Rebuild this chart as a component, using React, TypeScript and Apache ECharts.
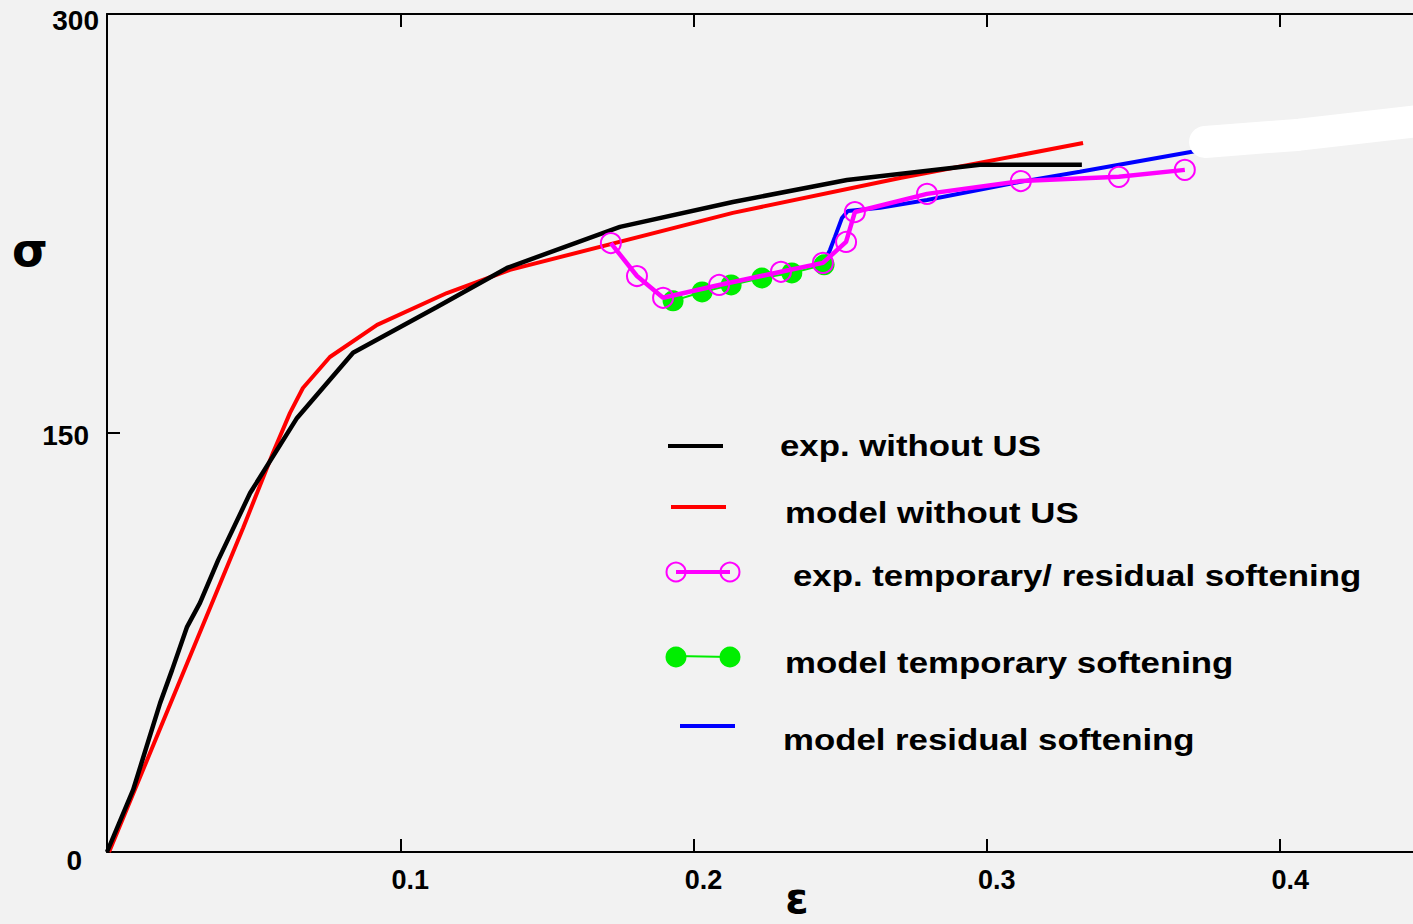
import React, { useEffect, useRef } from "react";
import * as echarts from "echarts";

// Tick labels
const xTickLabels = ["0.1", "0.2", "0.3", "0.4"];
const xTickValues = [0.1, 0.2, 0.3, 0.4];
const yTickLabels = ["0", "150", "300"];

// exp. without US (black)
const expWithoutUS: [number, number][] = [
  [0, 0], [0.0089, 22.2], [0.0181, 53.3], [0.0222, 65.2], [0.0273, 80.6],
  [0.0317, 89.2], [0.0379, 104.5], [0.0488, 128.5], [0.0648, 155.4],
  [0.0839, 178.7], [0.1125, 195.1], [0.1364, 209.1], [0.1749, 223.8],
  [0.2134, 232.7], [0.2523, 240.6], [0.2976, 246.0], [0.3324, 246.0],
];

// model without US (red)
const modelWithoutUS: [number, number][] = [
  [0.0007, 0], [0.0464, 116.0], [0.0566, 142.9], [0.0624, 157.2],
  [0.0668, 166.1], [0.076, 177.2], [0.0921, 188.7], [0.1159, 200.1],
  [0.1374, 208.4], [0.2134, 228.8], [0.2704, 241.3], [0.3328, 253.8],
];

// exp. temporary / residual softening (magenta)
const expSoftening: [number, number][] = [
  [0.1718, 218.0], [0.1807, 206.2], [0.1896, 198.4], [0.2087, 203.0],
  [0.2298, 207.7], [0.2441, 210.9], [0.252, 218.4], [0.255, 229.1],
  [0.2796, 235.6], [0.3116, 240.2], [0.345, 241.7], [0.3675, 244.2],
];

// model temporary softening (green)
const modelTemporary: [number, number][] = [
  [0.193, 197.3], [0.2029, 200.5], [0.2128, 203.0], [0.2233, 205.5],
  [0.2335, 207.3], [0.2445, 210.2],
];

// model residual softening (blue)
const modelResidual: [number, number][] = [
  [0.2441, 210.5], [0.2465, 215.5], [0.2482, 220.2], [0.2506, 227.0],
  [0.2526, 229.5], [0.2636, 230.6], [0.2796, 233.4], [0.3113, 239.9],
  [0.3317, 243.5], [0.3733, 251.3],
];

// white erasure stroke on the original figure
const eraseStroke: [number, number][] = [
  [0.3744, 254.2], [0.4067, 256.8], [0.4453, 261.5],
];

const legendItems = [
  "exp. without US",
  "model without US",
  "exp. temporary/ residual softening",
  "model temporary softening",
  "model residual softening",
];

const LEGEND_FONT = "'Liberation Sans', Arial, sans-serif";
const TICK_FONT = "'Liberation Sans', Arial, sans-serif";
const SYMBOL_FONT = "'DejaVu Sans', sans-serif";

export default function App() {
  const ref = useRef<HTMLDivElement>(null);

  useEffect(() => {
    if (!ref.current) return;
    const chart = echarts.init(ref.current, null, { renderer: "svg" });

    const xFmt = (v: number) => {
      const r = Math.round(v * 10) / 10;
      const s = String(r);
      return xTickLabels.includes(s) && Math.abs(v - r) < 1e-9 ? s : "";
    };
    const yFmt = (v: number) => {
      const s = String(Math.round(v));
      if (!yTickLabels.includes(s)) return "";
      if (s === "300") return "{a|300}";
      if (s === "150") return "{b|150}";
      return "{c|0}";
    };

    const tickText = {
      fontSize: 28,
      fontWeight: "bold" as const,
      color: "#000",
      fontFamily: TICK_FONT,
    };

    const legendText = (text: string, x: number, y: number) => ({
      type: "text",
      x,
      y,
      scaleX: 1.16,
      style: {
        text,
        fontSize: 30,
        fontWeight: "bold",
        fontFamily: LEGEND_FONT,
        fill: "#000",
        textVerticalAlign: "middle",
        verticalAlign: "middle",
      },
    });

    const axisNameText = (text: string, x: number, y: number, size: number) => ({
      type: "text",
      x,
      y,
      style: {
        text,
        fontSize: size,
        fontWeight: "bold",
        fontFamily: SYMBOL_FONT,
        fill: "#000",
        textAlign: "center",
        align: "center",
        textVerticalAlign: "middle",
        verticalAlign: "middle",
      },
    });

    chart.setOption({
      animation: false,
      backgroundColor: "#f2f2f2",
      grid: { left: 107, top: 14, right: 0, bottom: 72, containLabel: false },
      xAxis: [
        {
          type: "value",
          position: "bottom",
          min: 0,
          max: 0.4453,
          interval: 0.1,
          splitLine: { show: false },
          axisLine: { lineStyle: { color: "#000", width: 2 } },
          axisTick: {
            inside: true,
            length: 13,
            customValues: xTickValues,
            lineStyle: { color: "#000", width: 2 },
          },
          axisLabel: {
            formatter: xFmt,
            customValues: xTickValues,
            margin: 14,
            fontSize: 27,
            fontWeight: "bold",
            color: "#000",
            fontFamily: TICK_FONT,
            padding: [0, 0, 0, 20],
          },
        },
        {
          type: "value",
          position: "top",
          min: 0,
          max: 0.4453,
          interval: 0.1,
          splitLine: { show: false },
          axisLine: { lineStyle: { color: "#000", width: 2 } },
          axisTick: {
            inside: true,
            length: 13,
            customValues: xTickValues,
            lineStyle: { color: "#000", width: 2 },
          },
          axisLabel: { show: false },
        },
      ],
      yAxis: {
        type: "value",
        min: 0,
        max: 300,
        interval: 150,
        splitLine: { show: false },
        axisLine: { lineStyle: { color: "#000", width: 2 } },
        axisTick: { inside: true, length: 13, lineStyle: { color: "#000", width: 2 } },
        axisLabel: {
          formatter: yFmt,
          margin: 8,
          rich: {
            a: { ...tickText, padding: [12, 0, 0, 0] },
            b: { ...tickText, padding: [4, 10, 0, 0] },
            c: { ...tickText, padding: [16, 17, 0, 0] },
          },
        },
      },
      series: [
        {
          name: legendItems[1],
          type: "line",
          data: modelWithoutUS,
          symbol: "none",
          lineStyle: { color: "#ff0000", width: 4 },
          z: 2,
        },
        {
          name: legendItems[0],
          type: "line",
          data: expWithoutUS,
          symbol: "none",
          lineStyle: { color: "#000000", width: 4.5 },
          z: 3,
        },
        {
          name: legendItems[4],
          type: "line",
          data: modelResidual,
          symbol: "none",
          lineStyle: { color: "#0000ff", width: 4 },
          z: 4,
        },
        {
          name: legendItems[3],
          type: "line",
          data: modelTemporary,
          symbol: "circle",
          symbolSize: 21,
          itemStyle: { color: "#00ee00" },
          lineStyle: { color: "#00ee00", width: 2 },
          z: 5,
        },
        {
          name: legendItems[2],
          type: "line",
          data: expSoftening,
          symbol: "circle",
          symbolSize: 20,
          itemStyle: { color: "rgba(0,0,0,0)", borderColor: "#ff00ff", borderWidth: 2 },
          lineStyle: { color: "#ff00ff", width: 4.5 },
          z: 6,
        },
        {
          name: "erase",
          type: "line",
          data: eraseStroke,
          symbol: "none",
          lineStyle: { color: "#ffffff", width: 32, cap: "round", join: "round" },
          z: 7,
        },
      ],
      graphic: [
        axisNameText("σ", 30, 250, 46),
        axisNameText("ε", 797, 898, 42),
        // legend
        { type: "line", shape: { x1: 668, y1: 446, x2: 723, y2: 446 }, style: { stroke: "#000", lineWidth: 4 } },
        legendText(legendItems[0], 780, 446),
        { type: "line", shape: { x1: 671, y1: 507, x2: 726, y2: 507 }, style: { stroke: "#ff0000", lineWidth: 4 } },
        legendText(legendItems[1], 785, 513),
        { type: "line", shape: { x1: 676, y1: 572, x2: 730, y2: 572 }, style: { stroke: "#ff00ff", lineWidth: 4 } },
        { type: "circle", shape: { cx: 676, cy: 572, r: 9.5 }, style: { fill: "none", stroke: "#ff00ff", lineWidth: 2 } },
        { type: "circle", shape: { cx: 730, cy: 572, r: 9.5 }, style: { fill: "none", stroke: "#ff00ff", lineWidth: 2 } },
        legendText(legendItems[2], 793, 576),
        { type: "line", shape: { x1: 676, y1: 656, x2: 730, y2: 657 }, style: { stroke: "#00ee00", lineWidth: 2 } },
        { type: "circle", shape: { cx: 676, cy: 657, r: 10.5 }, style: { fill: "#00ee00" } },
        { type: "circle", shape: { cx: 730, cy: 657, r: 10.5 }, style: { fill: "#00ee00" } },
        legendText(legendItems[3], 785, 663),
        { type: "line", shape: { x1: 680, y1: 726, x2: 735, y2: 726 }, style: { stroke: "#0000ff", lineWidth: 4 } },
        legendText(legendItems[4], 783, 740),
      ],
    });

    return () => chart.dispose();
  }, []);

  return (
    <div
      ref={ref}
      style={{ position: "fixed", left: 0, top: 0, width: 1413, height: 924 }}
    />
  );
}
